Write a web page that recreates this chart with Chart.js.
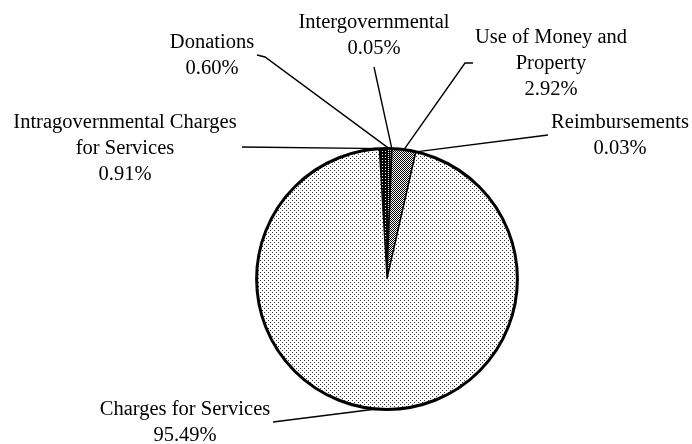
<!DOCTYPE html>
<html>
<head>
<meta charset="utf-8">
<script src="https://cdn.jsdelivr.net/npm/chart.js@4/dist/chart.umd.min.js"></script>
<style>
  html, body { margin: 0; padding: 0; background: #fff; }
  #contenedor { width: 692px; height: 444px; }
</style>
</head>
<body>
<div id="contenedor"><canvas id="ingresosChart"></canvas></div>
<script>
// Datos del grafico (en orden horario desde arriba)
const categorias = ['Intragovernmental Charges for Services', 'Donations', 'Intergovernmental', 'Use of Money and Property', 'Reimbursements', 'Charges for Services'];
const porcentajes = [0.91, 0.60, 0.05, 2.92, 0.03, 95.49];
const etiquetas = [
    ['Intragovernmental Charges', 'for Services'],
    ['Donations'],
    ['Intergovernmental'],
    ['Use of Money and', 'Property'],
    ['Reimbursements'],
    ['Charges for Services']
];

// Posicion de cada etiqueta (centro, primera linea base) y puntos de su linea guia
const posEtiquetas = [
    { x: 125, y: 128, guia: [[242, 147]] },
    { x: 212, y: 48, guia: [[257, 55], [265, 57]] },
    { x: 374, y: 28, guia: [[374, 67]] },
    { x: 551, y: 43, guia: [[473, 63], [465, 63]] },
    { x: 620, y: 128, guia: [[548, 135]] },
    { x: 185, y: 415, guia: [[273, 422]] }
];

// Crea una trama pequena para rellenar los sectores
function crearPatron(tam, fondo, tinta, puntos) {
    const c = document.createElement('canvas');
    c.width = tam;
    c.height = tam;
    const g = c.getContext('2d');
    g.fillStyle = fondo;
    g.fillRect(0, 0, tam, tam);
    g.fillStyle = tinta;
    puntos.forEach(([px, py]) => g.fillRect(px, py, 1, 1));
    return g.createPattern(c, 'repeat');
}

const tramas = [
    crearPatron(3, '#000', '#fff', [[1, 1]]),
    crearPatron(2, '#000', '#fff', [[0, 0]]),
    '#000',
    crearPatron(2, '#fff', '#000', [[0, 0], [1, 1]]),
    '#000',
    crearPatron(4, '#fff', '#333', [[0, 0], [2, 2]])
];

const etiquetasPlugin = {
    id: 'etiquetasGuia',
    afterDatasetsDraw(chart) {
        const ctx = chart.ctx;
        const arcos = chart.getDatasetMeta(0).data;
        const cx = arcos[0].x;
        const cy = arcos[0].y;
        const radio = arcos[0].outerRadius;

        ctx.save();
        // Borde exterior mas grueso
        ctx.strokeStyle = '#000';
        ctx.lineWidth = 3;
        ctx.beginPath();
        ctx.arc(cx, cy, radio, 0, Math.PI * 2);
        ctx.stroke();

        ctx.lineWidth = 1.4;
        ctx.fillStyle = '#000';
        ctx.font = '20.5px "Liberation Serif", "Times New Roman", serif';
        ctx.textAlign = 'center';
        ctx.textBaseline = 'alphabetic';

        arcos.forEach((arco, i) => {
            const medio = (arco.startAngle + arco.endAngle) / 2;
            const px = cx + Math.cos(medio) * radio;
            const py = cy + Math.sin(medio) * radio;
            const p = posEtiquetas[i];

            ctx.beginPath();
            ctx.moveTo(p.guia[0][0], p.guia[0][1]);
            p.guia.slice(1).forEach(([gx, gy]) => ctx.lineTo(gx, gy));
            ctx.lineTo(px, py);
            ctx.stroke();

            const lineas = etiquetas[i].concat(porcentajes[i].toFixed(2) + '%');
            lineas.forEach((t, j) => ctx.fillText(t, p.x, p.y + j * 26));
        });
        ctx.restore();
    }
};

const ctx = document.getElementById('ingresosChart').getContext('2d');
window.myChart = new Chart(ctx, {
    type: 'pie',
    data: {
        labels: categorias,
        datasets: [{
            data: porcentajes,
            backgroundColor: tramas,
            borderColor: '#000',
            borderWidth: 1.2
        }]
    },
    options: {
        responsive: true,
        maintainAspectRatio: false,
        animation: false,
        rotation: -3.4,
        layout: {
            padding: { left: 256, right: 174, top: 148, bottom: 34 }
        },
        plugins: {
            legend: { display: false },
            tooltip: { enabled: false }
        }
    },
    plugins: [etiquetasPlugin]
});
</script>
</body>
</html>
